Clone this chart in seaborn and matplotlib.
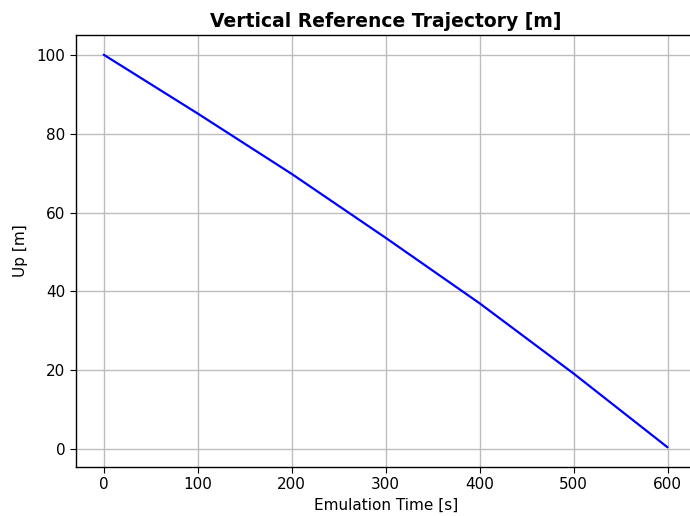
import matplotlib
matplotlib.use("Agg")
import matplotlib.pyplot as plt
import seaborn as sns
import pandas as pd

time_s = [0, 100, 200, 300, 400, 500, 600]
up_m = [100.0, 85.1, 69.8, 53.6, 37.0, 19.2, 0.5]

df = pd.DataFrame({"Emulation Time [s]": time_s, "Up [m]": up_m})

sns.set_style("ticks")
plt.rcParams['font.family'] = ['DejaVu Sans']

fig = plt.figure(figsize=(6.9, 5.16), dpi=100)
ax = fig.add_axes([76/690, 1-467/516, (695.7-76)/690, (467-35)/516])

sns.lineplot(data=df, x="Emulation Time [s]", y="Up [m]", color="#0000ff",
             linewidth=1.6, ax=ax)

ax.set_xlim(-29.5, 630)
ax.set_ylim(-4.5, 105.0)
ax.set_xticks([0, 100, 200, 300, 400, 500, 600])
ax.set_yticks([0, 20, 40, 60, 80, 100])
ax.grid(True, color="#bdbdbd", linewidth=1.0)
ax.set_axisbelow(True)
for s in ["left", "bottom", "top"]:
    ax.spines[s].set_color("black")
    ax.spines[s].set_linewidth(1.0)
ax.spines["right"].set_visible(False)
ax.tick_params(colors="black", labelsize=11, length=4, width=0.8)
ax.set_xlabel("Emulation Time [s]", fontsize=11, color="black", labelpad=4)
ax.set_ylabel("Up [m]", fontsize=11, color="black", labelpad=6)
ax.set_title("Vertical Reference Trajectory [m]", fontsize=13.5,
             fontweight="bold", color="black", pad=6)

fig.savefig("out.png", dpi=100)
